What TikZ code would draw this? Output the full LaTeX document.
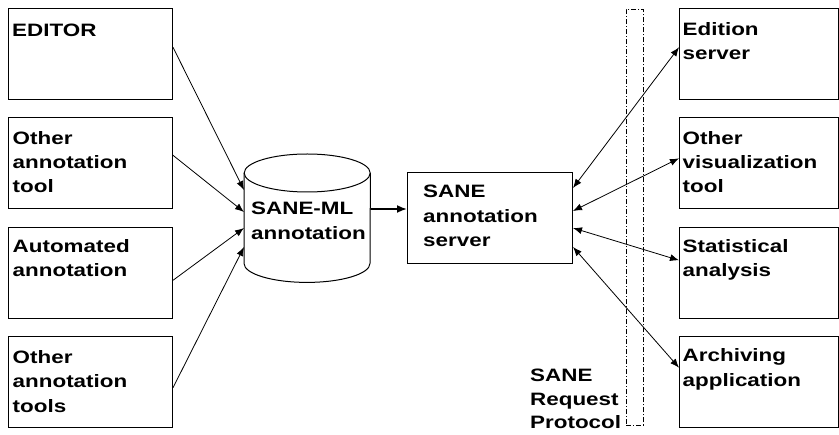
\documentclass[tikz,border=0pt]{standalone}
\usepackage{fontspec}
\newfontfamily\lblfont{Liberation Sans}[FakeStretch=1.25]
\usetikzlibrary{arrows.meta,calc}
% one text line per node, placed on its baseline inside a box
\newcommand\boxtext[5]{%
  \foreach \t [count=\i from 0] in {#5} {%
    \node[lbl] (#1-l\i) at ($(#1.north west)+(#2,{#3+#4*\i})$) {\t};}}
\begin{document}
\begin{tikzpicture}[x=1bp,y=-1bp,
  box/.style={draw,line width=1bp,anchor=north west,inner sep=0pt,
    minimum height=91bp},
  lbox/.style={box,minimum width=164.5bp},
  rbox/.style={box,minimum width=158.5bp},
  lbl/.style={anchor=base west,inner sep=0pt,
    font=\lblfont\bfseries\fontsize{18}{24}\selectfont},
  tip/.tip={Latex[length=9bp,width=7bp]},
  link/.style={line width=0.8bp,-tip},
  dlink/.style={line width=0.8bp,tip-tip},
  protocol/.style={draw,line width=0.7bp,
    dash pattern=on 5bp off 2bp on 1bp off 2bp},
]
\useasboundingbox (0,0) rectangle (839,435);

% annotation sources
\node[lbox] (ed)  at (7.5,8.3)   {};
\node[lbox] (ot)  at (7.5,117.3) {};
\node[lbox] (au)  at (7.5,227.3) {};
\node[lbox] (ots) at (7.5,335.7) {};
\boxtext{ed}{4.5}{28.5}{24}{EDITOR}
\boxtext{ot}{5}{27.5}{24}{Other,annotation,tool}
\boxtext{au}{5}{25}{24.5}{Automated,annotation}
\boxtext{ots}{5}{27.5}{24.5}{Other,annotation,tools}

% annotation store (cylinder)
\node[inner sep=0pt,minimum width=126bp,minimum height=128bp,anchor=north west]
  (db) at (244,154) {};
\draw[line width=1bp] ($(db.north)+(0,19)$) ellipse [x radius=63bp,y radius=19bp];
\draw[line width=1bp] ($(db.north west)+(0,19)$) -- ($(db.south west)+(0,-19)$)
  arc [start angle=180,end angle=360,x radius=63bp,y radius=19bp]
  -- ($(db.north east)+(0,19)$);
\boxtext{db}{7}{61}{25}{SANE-ML,annotation}

% server
\node[box,minimum width=165bp,minimum height=90.5bp] (srv) at (407,172.5) {};
\boxtext{srv}{16}{25.5}{24.5}{SANE,annotation,server}

% clients
\node[rbox] (es) at (679,8.3)   {};
\node[rbox] (ov) at (679,117.3) {};
\node[rbox] (sa) at (679,227.3) {};
\node[rbox] (ar) at (679,335.7) {};
\boxtext{es}{3.5}{27}{24.5}{Edition,server}
\boxtext{ov}{3.5}{27.5}{24}{Other,visualization,tool}
\boxtext{sa}{3.5}{25}{24.5}{Statistical,analysis}
\boxtext{ar}{3.5}{26}{25}{Archiving,application}

% request protocol band
\node[protocol,inner sep=0pt,minimum width=17bp,minimum height=416bp,
  anchor=north west] (rp) at (626,9) {};
\boxtext{rp}{-96}{373}{23}{SANE,Request,Protocol}

% sources -> store
\draw[link] ($(ed.north east)+(0,39)$)  -- ($(db.north west)+(0,36)$);
\draw[link] ($(ot.north east)+(0,38)$)  -- ($(db.north west)+(0,58)$);
\draw[link] ($(au.north east)+(0,53)$)  -- ($(db.north west)+(0,74)$);
\draw[link] ($(ots.north east)+(0,52)$) -- ($(db.north west)+(0,93)$);

% store -> server
\draw[line width=1.8bp,-{Latex[length=10bp,width=8bp]}]
  ($(db.north east)+(0,55)$) -- ($(srv.north west)+(0,36.5)$);

% server <-> clients
\draw[dlink] ($(srv.north east)+(0,15.5)$) -- ($(es.north west)+(0,39)$);
\draw[dlink] ($(srv.north east)+(0,38.5)$) -- ($(ov.north west)+(0,41)$);
\draw[dlink] ($(srv.north east)+(0,55.5)$) -- ($(sa.north west)+(0,33)$);
\draw[dlink] ($(srv.north east)+(0,74.5)$) -- ($(ar.north west)+(0,32)$);
\end{tikzpicture}
\end{document}
